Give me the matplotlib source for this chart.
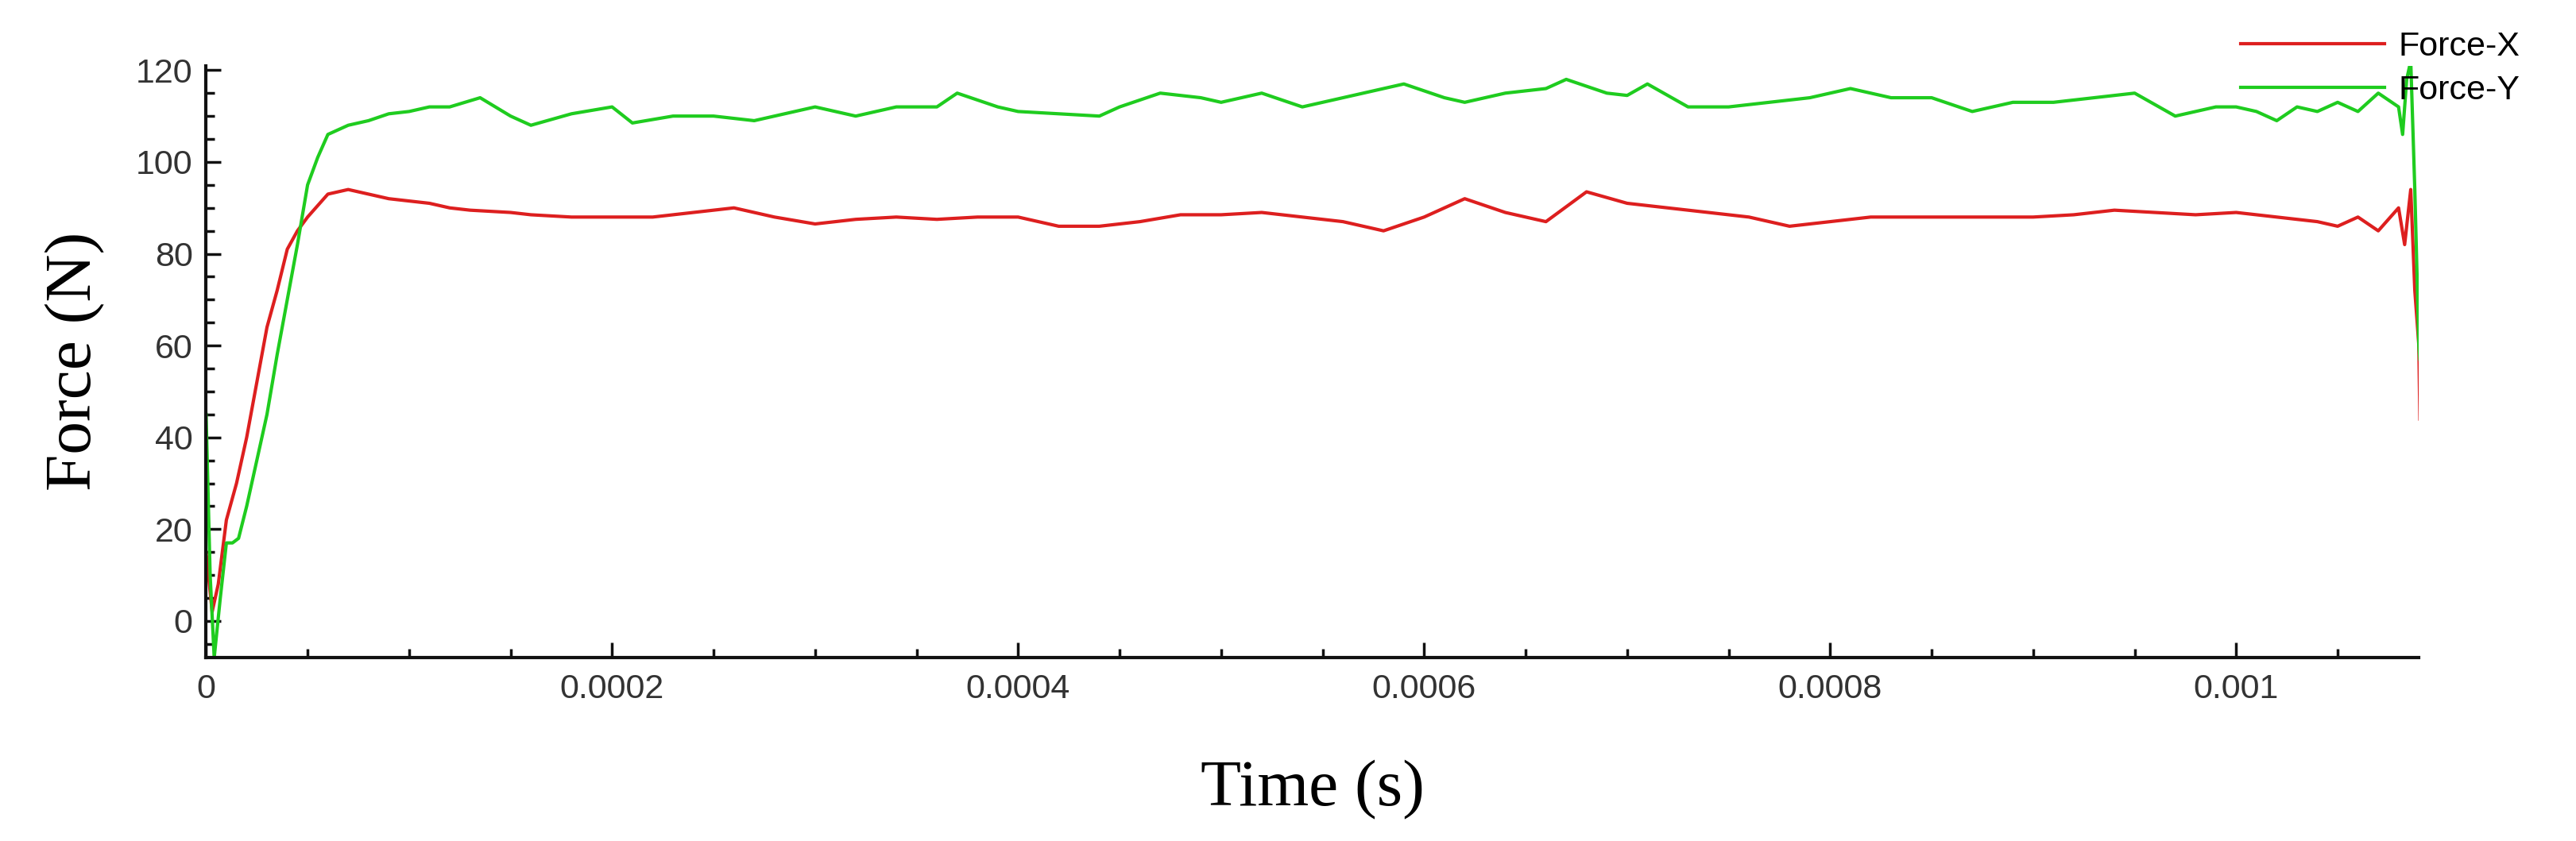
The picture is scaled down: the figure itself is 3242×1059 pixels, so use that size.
import matplotlib
matplotlib.use("Agg")
import matplotlib.pyplot as plt
from matplotlib.ticker import MultipleLocator, FuncFormatter

# time in seconds, force in N
t_x = [0, 0.000003, 0.000006, 0.00001, 0.000015, 0.00002, 0.000025, 0.00003, 0.000035, 0.00004,
       0.000045, 0.00005, 0.00006, 0.00007, 0.00008, 0.00009, 0.0001, 0.00011, 0.00012, 0.00013,
       0.00015, 0.00016, 0.00018, 0.0002, 0.00022, 0.00024, 0.00026, 0.00028, 0.0003, 0.00032,
       0.00034, 0.00036, 0.00038, 0.0004, 0.00042, 0.00044, 0.00046, 0.00048, 0.0005, 0.00052,
       0.00054, 0.00056, 0.00058, 0.0006, 0.00062, 0.00064, 0.00066, 0.00068, 0.0007, 0.00072,
       0.00074, 0.00076, 0.00078, 0.0008, 0.00082, 0.00084, 0.00086, 0.00088, 0.0009, 0.00092,
       0.00094, 0.00096, 0.00098, 0.001, 0.00102, 0.00104, 0.00105, 0.00106, 0.00107, 0.00108,
       0.001083, 0.001086, 0.001088, 0.00109, 0.0010905]
force_x = [15, 2, 8, 22, 30, 40, 52, 64, 72, 81,
           85, 88, 93, 94, 93, 92, 91.5, 91, 90, 89.5,
           89, 88.5, 88, 88, 88, 89, 90, 88, 86.5, 87.5,
           88, 87.5, 88, 88, 86, 86, 87, 88.5, 88.5, 89,
           88, 87, 85, 88, 92, 89, 87, 93.5, 91, 90,
           89, 88, 86, 87, 88, 88, 88, 88, 88, 88.5,
           89.5, 89, 88.5, 89, 88, 87, 86, 88, 85, 90,
           82, 94, 72, 60, 44]

t_y = [0, 0.000002, 0.000004, 0.000007, 0.00001, 0.000013, 0.000016, 0.00002, 0.000025, 0.00003,
       0.000035, 0.00004, 0.000045, 0.00005, 0.000055, 0.00006, 0.00007, 0.00008, 0.00009, 0.0001,
       0.00011, 0.00012, 0.000135, 0.00015, 0.00016, 0.00018, 0.0002, 0.00021, 0.00023, 0.00025,
       0.00027, 0.00029, 0.0003, 0.00032, 0.00034, 0.00036, 0.00037, 0.00039, 0.0004, 0.00042,
       0.00044, 0.00045, 0.00047, 0.00049, 0.0005, 0.00052, 0.00054, 0.00056, 0.00057, 0.00059,
       0.00061, 0.00062, 0.00064, 0.00066, 0.00067, 0.00069, 0.0007, 0.00071, 0.00073, 0.00075,
       0.00077, 0.00079, 0.00081, 0.00083, 0.00085, 0.00087, 0.00089, 0.00091, 0.00093, 0.00095,
       0.00097, 0.00099, 0.001, 0.00101, 0.00102, 0.00103, 0.00104, 0.00105, 0.00106, 0.00107,
       0.00108, 0.001082, 0.001084, 0.001086, 0.001088, 0.00109, 0.0010905]
force_y = [45, 10, -8, 5, 17, 17, 18, 25, 35, 45,
           58, 70, 82, 95, 101, 106, 108, 109, 110.5, 111,
           112, 112, 114, 110, 108, 110.5, 112, 108.5, 110, 110,
           109, 111, 112, 110, 112, 112, 115, 112, 111, 110.5,
           110, 112, 115, 114, 113, 115, 112, 114, 115, 117,
           114, 113, 115, 116, 118, 115, 114.5, 117, 112, 112,
           113, 114, 116, 114, 114, 111, 113, 113, 114, 115,
           110, 112, 112, 111, 109, 112, 111, 113, 111, 115,
           112, 106, 118, 122, 94, 60, 57]

fig = plt.figure(figsize=(32.42, 10.59), dpi=100)
ax = fig.add_axes([0.080, 0.218, 0.859, 0.704])

l1, = ax.plot(t_x, force_x, color="#dd1f1f", lw=3, label="Force-X")
l2, = ax.plot(t_y, force_y, color="#1fcc1f", lw=3, label="Force-Y")

ax.set_xlim(0, 0.00109)
ax.set_ylim(-8, 121)
ax.xaxis.set_major_locator(MultipleLocator(0.0002))
ax.xaxis.set_minor_locator(MultipleLocator(0.00005))
ax.yaxis.set_major_locator(MultipleLocator(20))
ax.yaxis.set_minor_locator(MultipleLocator(5))
ax.xaxis.set_major_formatter(FuncFormatter(lambda v, p: "0" if v == 0 else f"{v:.4f}".rstrip("0")))

for s in ["top", "right"]:
    ax.spines[s].set_visible(False)
for s in ["left", "bottom"]:
    ax.spines[s].set_linewidth(3)
    ax.spines[s].set_color("#111111")

ax.tick_params(axis="both", which="both", direction="in", colors="#111111", width=2.5,
               labelsize=31, labelcolor="#333333")
ax.tick_params(which="major", length=14)
ax.tick_params(which="minor", length=8)
ax.tick_params(axis="x", pad=14)
ax.tick_params(axis="y", pad=12)
for lab in ax.get_xticklabels() + ax.get_yticklabels():
    lab.set_family("Liberation Sans")

ax.set_xlabel("Time (s)", family="Liberation Serif", fontsize=60, labelpad=50)
ax.set_ylabel("Force (N)", family="Liberation Serif", fontsize=60, labelpad=28)

fig.legend(handles=[l1, l2], loc="upper left", bbox_to_anchor=(0.858, 1.0), frameon=False,
           handlelength=4.2, handletextpad=0.4, labelspacing=0.35,
           prop={"family": "Liberation Sans", "size": 31})

fig.savefig("out.png", dpi=100, facecolor="white")
